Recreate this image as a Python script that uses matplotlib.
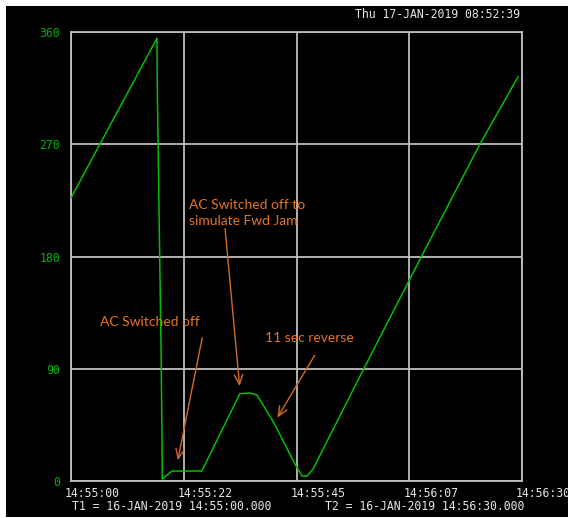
import matplotlib
matplotlib.use('Agg')
import matplotlib.pyplot as plt
import matplotlib.transforms as mtransforms
from matplotlib.patches import Rectangle

# seconds after 14:55:00 and position in degrees
secs = [0, 17.16, 17.2, 17.96, 18.16, 18.2, 20.15, 26.1, 33.7, 35.7, 37.1,
        40.3, 44.7, 46.1, 47.1, 48.3, 58.3, 69.8, 81.6, 89.2]
angle = [227, 355, 320, 108, 36, 1.6, 8, 8, 70, 70.6, 69,
         48, 13.6, 4, 4, 9.6, 89, 179, 270, 324]

xticks = [0, 22.5, 45, 67.5, 90]
xlabels = ['14:55:00', '14:55:22', '14:55:45', '14:56:07', '14:56:30']
yticks = [0, 90, 180, 270, 360]

notes = ['AC Switched off', 'AC Switched off to\nsimulate Fwd Jam', '11 sec reverse']
note_xy = [(5.8, 127.5), (23.6, 215), (38.7, 114.7)]
arrow_tail = [(26.3, 117), (30.7, 204.5), (48.9, 102.6)]
arrow_head = [(21.2, 14.4), (33.7, 73.8), (40.9, 48.9)]

W, H = 568, 518
fig = plt.figure(figsize=(W / 100, H / 100), dpi=100, facecolor='white')
fig.patches.append(Rectangle((6 / W, 1 / H), 1 - 6 / W, 1 - 7 / H,
                             transform=fig.transFigure, facecolor='black',
                             edgecolor='none', zorder=-10))

ax = fig.add_axes([71 / W, 1 - 481 / H, (522 - 71) / W, (481 - 32) / H])
ax.set_facecolor('black')
ax.set_xlim(0, 90)
ax.set_ylim(0, 360)

mono = 'DejaVu Sans Mono'
ax.set_xticks(xticks)
ax.set_xticklabels(xlabels, fontfamily=mono, fontsize=8.3, color='#E6E6E6')
ax.set_yticks(yticks)
ax.set_yticklabels([str(v) for v in yticks], fontfamily=mono, fontsize=8.3, color='#00B400')
ax.tick_params(length=0, pad=4)
ax.tick_params(axis='y', pad=8)
shift = mtransforms.ScaledTranslation(-6 / 100, 0, fig.dpi_scale_trans)
for lab in ax.get_xticklabels():
    lab.set_horizontalalignment('left')
    lab.set_transform(lab.get_transform() + shift)

ax.grid(True, color='#BEBEBE', linewidth=1.3)
for sp in ax.spines.values():
    sp.set_color('#BEBEBE')
    sp.set_linewidth(1.3)

ax.plot(secs, angle, color='#00C000', linewidth=1.1, zorder=3)

for txt, xy, tail, head in zip(notes, note_xy, arrow_tail, arrow_head):
    ax.text(xy[0], xy[1], txt, fontfamily='Lato', fontsize=10, color='#E8741E',
            ha='left', va='center', linespacing=1.35, zorder=5)
    ax.annotate('', xy=head, xytext=tail,
                arrowprops=dict(arrowstyle='->,head_length=0.7,head_width=0.3',
                                color='#D06A22', lw=1.0), zorder=4)

fig.text(355 / W, 1 - 14 / H, 'Thu 17-JAN-2019 08:52:39', fontfamily=mono,
         fontsize=8.3, color='#E6E6E6', ha='left', va='center')
fig.text(72 / W, 1 - 507 / H, 'T1 = 16-JAN-2019 14:55:00.000', fontfamily=mono,
         fontsize=8.3, color='#E6E6E6', ha='left', va='center')
fig.text(325 / W, 1 - 507 / H, 'T2 = 16-JAN-2019 14:56:30.000', fontfamily=mono,
         fontsize=8.3, color='#E6E6E6', ha='left', va='center')

fig.savefig('out.png', dpi=100, facecolor='white')
